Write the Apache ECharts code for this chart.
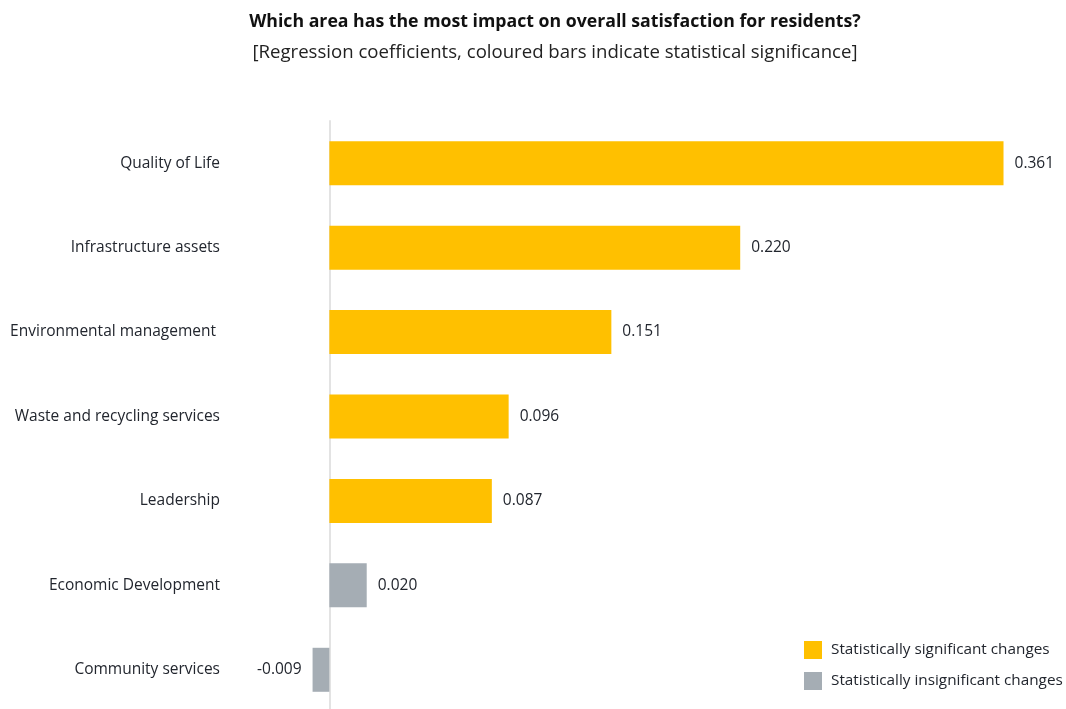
<!DOCTYPE html>
<html>
<head>
<meta charset="utf-8">
<script src="https://cdn.jsdelivr.net/npm/echarts@6/dist/echarts.min.js"></script>
<style>
  html, body { margin: 0; padding: 0; background: #ffffff; }
  #chart { width: 1066px; height: 709px; }
</style>
</head>
<body>
<div id="chart"></div>
<script>
// Drivers of overall resident satisfaction (regression coefficients)
const categories = [
  'Quality of Life',
  'Infrastructure assets',
  'Environmental management ',
  'Waste and recycling services',
  'Leadership',
  'Economic Development',
  'Community services'
];
const coefficients = [0.361, 0.220, 0.151, 0.096, 0.087, 0.020, -0.009];
const significant = [true, true, true, true, true, false, false];

const seriesNames = ['Statistically significant changes', 'Statistically insignificant changes'];
const colours = ['#FFC000', '#A5ADB4'];

const FONT = '"Open Sans"';
const TEXT = '#22262e';

function seriesData(wantSignificant) {
  return coefficients.map((v, i) => {
    if (significant[i] !== wantSignificant) return '-';
    return {
      value: v,
      label: { position: v < 0 ? 'left' : 'right' }
    };
  });
}

const labelStyle = {
  show: true,
  distance: 11,
  color: TEXT,
  fontFamily: FONT,
  fontSize: 15.5,
  formatter: p => p.value.toFixed(3)
};

const chart = echarts.init(document.getElementById('chart'));
chart.setOption({
  animation: false,
  backgroundColor: '#ffffff',
  title: {
    text: 'Which area has the most impact on overall satisfaction for residents?',
    subtext: '[Regression coefficients, coloured bars indicate statistical significance]',
    left: 550,
    top: 8,
    textAlign: 'center',
    itemGap: 12,
    textStyle: { fontFamily: FONT, fontSize: 17.7, fontWeight: 'bold', color: '#111' },
    subtextStyle: { fontFamily: FONT, fontSize: 18.6, color: '#222' }
  },
  legend: {
    orient: 'vertical',
    left: 799,
    top: 636,
    itemWidth: 18,
    itemHeight: 18,
    itemGap: 13,
    icon: 'rect',
    data: seriesNames,
    textStyle: { fontFamily: FONT, fontSize: 15.3, color: TEXT, padding: [0, 0, 0, 4] }
  },
  grid: { left: 236, top: 121, width: 803, height: 591, outerBoundsMode: 'none', containLabel: false },
  xAxis: {
    type: 'value',
    min: -0.05,
    max: 0.38,
    show: false
  },
  yAxis: {
    type: 'category',
    inverse: true,
    data: categories,
    axisLine: { show: true, onZero: true, lineStyle: { color: '#e3e3e3', width: 2 } },
    axisTick: { show: false },
    axisLabel: { margin: 16, color: TEXT, fontFamily: FONT, fontSize: 15.5 }
  },
  series: [
    {
      name: seriesNames[0],
      type: 'bar',
      barWidth: 44,
      barGap: '-100%',
      itemStyle: { color: colours[0] },
      label: labelStyle,
      data: seriesData(true)
    },
    {
      name: seriesNames[1],
      type: 'bar',
      barWidth: 44,
      barGap: '-100%',
      itemStyle: { color: colours[1] },
      label: labelStyle,
      data: seriesData(false)
    }
  ]
});
</script>
</body>
</html>
